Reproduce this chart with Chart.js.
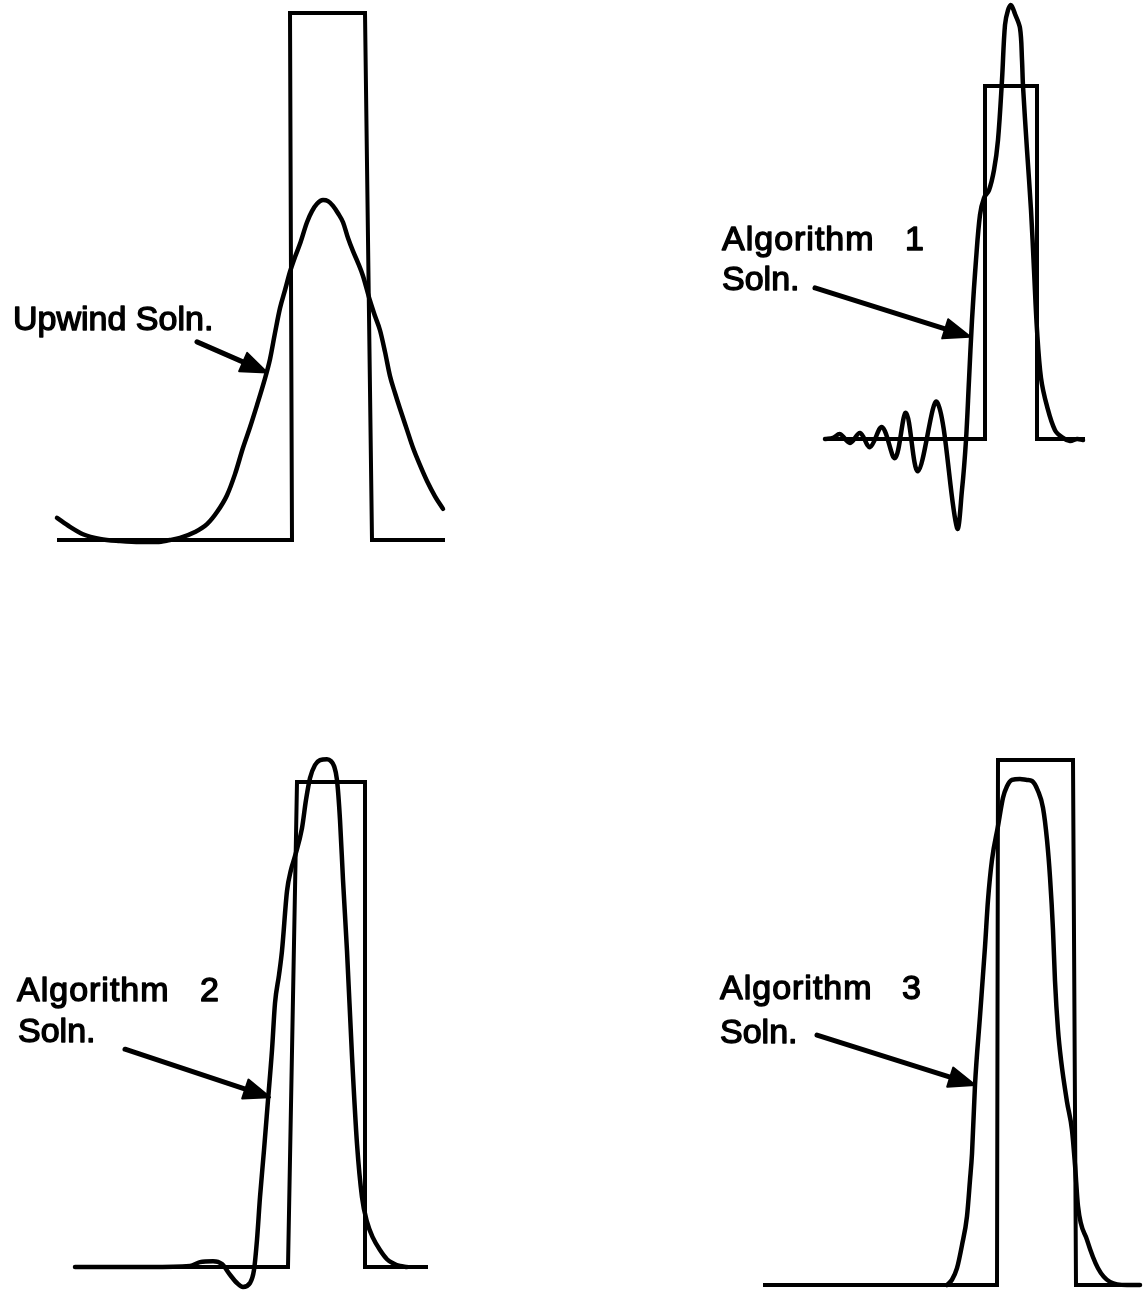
<!DOCTYPE html>
<html>
<head>
<meta charset="utf-8">
<script src="https://cdn.jsdelivr.net/npm/chart.js@4/dist/chart.umd.min.js"></script>
<style>
  html, body { margin: 0; padding: 0; background: #fff; }
  #page { position: relative; width: 1144px; height: 1290px; overflow: hidden; background: #fff; }
  #page canvas { position: absolute; }
</style>
</head>
<body>
<div id="page"></div>
<script>
// Exact solution: square pulse of unit height (same heights in every panel)
const pulseU = [0, 0, 1, 1, 0, 0];

// Panel 1 - upwind scheme
const pulseX1 = [5.7, 29.2, 29.0, 36.5, 37.2, 44.5];
const upwindX = [5.7, 7.0, 8.3, 10.0, 12.0, 14.0, 15.7, 17.0, 18.0, 19.5,
                 20.7, 21.7, 22.7, 23.5, 24.3, 25.0, 25.7, 26.4, 27.0, 27.5,
                 28.0, 28.5, 29.0, 29.5, 30.0, 30.7, 31.2, 31.7, 32.3, 32.8,
                 33.3, 33.8, 34.3, 34.8, 35.3, 35.8, 36.3, 37.0, 37.5, 38.0,
                 38.5, 39.0, 39.5, 40.0, 40.7, 41.3, 42.0, 42.7, 43.5, 44.3];
const upwindU = [0.042, 0.025, 0.011, 0.002, -0.002, -0.004, -0.004, 0.000, 0.004, 0.015,
                 0.030, 0.053, 0.085, 0.125, 0.175, 0.214, 0.256, 0.300, 0.343, 0.393,
                 0.440, 0.474, 0.509, 0.537, 0.562, 0.603, 0.624, 0.638, 0.645, 0.643,
                 0.634, 0.620, 0.603, 0.573, 0.548, 0.526, 0.501, 0.454, 0.425, 0.398,
                 0.357, 0.311, 0.279, 0.249, 0.209, 0.175, 0.142, 0.112, 0.083, 0.059];

// Panel 2 - Algorithm 1
const pulseX2 = [12.5, 28.5, 28.5, 33.7, 33.7, 38.5];
const alg1X = [12.5, 13.3, 14.0, 15.0, 16.0, 17.0, 18.2, 19.5, 20.6, 21.8,
               23.7, 25.7, 26.2, 26.6, 26.9, 27.2, 27.6, 28.0, 28.4, 28.9,
               29.4, 29.8, 30.2, 30.5, 30.8, 31.1, 31.5, 32.0, 32.2, 32.3,
               32.7, 33.1, 33.4, 33.7, 34.1, 34.7, 35.5, 36.3, 37.0, 37.7, 38.3];
const alg1U = [0, 0.003, 0.014, -0.011, 0.017, -0.023, 0.034, -0.054, 0.074, -0.091,
               0.105, -0.252, -0.144, -0.003, 0.167, 0.337, 0.507, 0.635, 0.683, 0.705,
               0.762, 0.847, 1.017, 1.173, 1.215, 1.229, 1.204, 1.164, 1.074, 1.000,
               0.819, 0.649, 0.479, 0.309, 0.173, 0.093, 0.025, 0.003, -0.006, 0, -0.003];

// Panel 3 - Algorithm 2
const pulseX3 = [7.5, 28.8, 29.7, 36.5, 36.5, 42.8];
const alg2X = [7.5, 15.0, 19.0, 20.0, 21.3, 22.2, 23.0, 23.7, 24.3, 25.0,
               25.4, 25.7, 26.0, 26.4, 26.8, 27.2, 27.5, 27.9, 28.2, 28.7,
               29.1, 29.5, 30.2, 30.6, 31.0, 31.5, 32.0, 32.7, 33.1, 33.4,
               33.7, 34.0, 34.3, 34.7, 35.2, 35.7, 36.2, 36.7, 37.3, 38.0,
               38.7, 39.3, 40.0, 40.7];
const alg2U = [0, 0, 0.002, 0.010, 0.012, 0.006, -0.016, -0.033, -0.041, -0.033,
               -0.006, 0.056, 0.144, 0.241, 0.344, 0.447, 0.544, 0.602, 0.652, 0.775,
               0.819, 0.847, 0.905, 0.963, 1.008, 1.035, 1.045, 1.047, 1.043, 1.033,
               1.004, 0.922, 0.798, 0.652, 0.435, 0.254, 0.144, 0.093, 0.060, 0.035,
               0.016, 0.008, 0.002, 0];

// Panel 4 - Algorithm 3
const pulseX4 = [6.3, 29.7, 29.8, 37.3, 37.6, 44.0];
const alg3X = [24.7, 25.2, 25.7, 26.2, 26.7, 27.0, 27.2, 27.5, 28.0, 28.5,
               28.8, 29.2, 29.8, 30.3, 30.7, 31.2, 32.0, 32.7, 33.2, 33.8,
               34.3, 34.7, 35.0, 35.3, 35.5, 35.8, 36.1, 36.7, 37.2, 37.5,
               37.8, 38.7, 39.8, 41.0, 42.7, 44.0];
const alg3U = [0, 0.010, 0.032, 0.076, 0.131, 0.200, 0.250, 0.381, 0.512, 0.644,
               0.733, 0.810, 0.874, 0.928, 0.950, 0.962, 0.964, 0.962, 0.960, 0.941,
               0.909, 0.848, 0.777, 0.676, 0.579, 0.486, 0.429, 0.349, 0.295, 0.229,
               0.150, 0.086, 0.032, 0.006, 0, 0];

// Label texts
const labelUpwind = ['Upwind Soln.'];
const labelAlg1 = ['Algorithm', '1', 'Soln.'];
const labelAlg2 = ['Algorithm', '2', 'Soln.'];
const labelAlg3 = ['Algorithm', '3', 'Soln.'];

const INK = '#000';
const FONT = '34px "Liberation Sans", Arial, Helvetica, sans-serif';

function pts(xs, us) { return xs.map((x, i) => ({ x: x, y: us[i] })); }

// Draws annotation text and leader arrows in data coordinates
const notesPlugin = {
  id: 'notes',
  afterDatasetsDraw(chart, args, opts) {
    const ctx = chart.ctx, sx = chart.scales.x, sy = chart.scales.y;
    ctx.save();
    ctx.fillStyle = INK; ctx.strokeStyle = INK;
    ctx.font = FONT;
    ctx.textBaseline = 'alphabetic';
    ctx.textAlign = 'left';
    ctx.lineJoin = 'round';
    (opts.texts || []).forEach(t => {
      ctx.letterSpacing = (t.spacing || 0) + 'px';
      const px = sx.getPixelForValue(t.x), py = sy.getPixelForValue(t.y);
      ctx.lineWidth = 1.4;
      ctx.fillText(t.text, px, py);
      ctx.strokeText(t.text, px, py);
    });
    ctx.letterSpacing = '0px';
    if (opts.arrow) {
      const a = opts.arrow;
      const x0 = sx.getPixelForValue(a.from[0]), y0 = sy.getPixelForValue(a.from[1]);
      const x1 = sx.getPixelForValue(a.to[0]), y1 = sy.getPixelForValue(a.to[1]);
      const ang = Math.atan2(y1 - y0, x1 - x0);
      const len = 26, half = 10;
      const bx = x1 - len * Math.cos(ang), by = y1 - len * Math.sin(ang);
      ctx.lineWidth = 5; ctx.lineCap = 'round';
      ctx.beginPath(); ctx.moveTo(x0, y0); ctx.lineTo(bx + 4 * Math.cos(ang), by + 4 * Math.sin(ang)); ctx.stroke();
      ctx.beginPath();
      ctx.moveTo(x1, y1);
      ctx.lineTo(bx - half * Math.sin(ang), by + half * Math.cos(ang));
      ctx.lineTo(bx + half * Math.sin(ang), by - half * Math.cos(ang));
      ctx.closePath();
      ctx.lineWidth = 2;
      ctx.fill(); ctx.stroke();
    }
    ctx.restore();
  }
};

// Panel frames: canvas box on the page, baseline row, pixels per unit height, pixels per x unit
const panels = [
  { left: 0,   top: 0,   width: 480, height: 580, base: 540,  unit: 527, pxPerX: 10,
    pulseX: pulseX1, solX: upwindX, solU: upwindU, smooth: 'monotone',
    texts: [{ text: labelUpwind[0], x: 1.3, y: 0.398 }],
    arrow: { from: [19.7, 0.376], to: [26.7, 0.318] } },
  { left: 700, top: 0,   width: 444, height: 560, base: 439,  unit: 353, pxPerX: 10,
    pulseX: pulseX2, solX: alg1X, solU: alg1U, smooth: 'default',
    texts: [{ text: labelAlg1[0], x: 2.2, y: 0.535, spacing: 1 },
            { text: labelAlg1[1], x: 20.5, y: 0.535 },
            { text: labelAlg1[2], x: 2.2, y: 0.422 }],
    arrow: { from: [11.5, 0.428], to: [27.0, 0.29] } },
  { left: 0,   top: 740, width: 480, height: 550, base: 1267, unit: 485, pxPerX: 10,
    pulseX: pulseX3, solX: alg2X, solU: alg2U, smooth: 'monotone',
    texts: [{ text: labelAlg2[0], x: 1.7, y: 0.548, spacing: 1 },
            { text: labelAlg2[1], x: 20.0, y: 0.548 },
            { text: labelAlg2[2], x: 1.8, y: 0.464 }],
    arrow: { from: [12.5, 0.449], to: [27.0, 0.35] } },
  { left: 700, top: 740, width: 444, height: 550, base: 1285, unit: 525, pxPerX: 10,
    pulseX: pulseX4, solX: alg3X, solU: alg3U, smooth: 'monotone',
    texts: [{ text: labelAlg3[0], x: 2.0, y: 0.545, spacing: 1 },
            { text: labelAlg3[1], x: 20.2, y: 0.545 },
            { text: labelAlg3[2], x: 2.0, y: 0.461 }],
    arrow: { from: [11.7, 0.476], to: [27.5, 0.381] } }
];

const page = document.getElementById('page');
panels.forEach(p => {
  const cv = document.createElement('canvas');
  cv.width = p.width; cv.height = p.height;
  cv.style.left = p.left + 'px'; cv.style.top = p.top + 'px';
  cv.style.width = p.width + 'px'; cv.style.height = p.height + 'px';
  page.appendChild(cv);

  const yMax = (p.base - p.top) / p.unit;
  const yMin = (p.base - (p.top + p.height)) / p.unit;

  new Chart(cv, {
    type: 'scatter',
    data: {
      datasets: [
        { data: pts(p.pulseX, pulseU), showLine: true, borderColor: INK, borderWidth: 4,
          pointRadius: 0, tension: 0, clip: false, borderJoinStyle: 'miter', borderCapStyle: 'butt' },
        { data: pts(p.solX, p.solU), showLine: true, borderColor: INK, borderWidth: 4.5,
          pointRadius: 0, tension: 0.35, cubicInterpolationMode: p.smooth, clip: false,
          borderJoinStyle: 'round', borderCapStyle: 'round' }
      ]
    },
    options: {
      responsive: false, animation: false, devicePixelRatio: 1, events: [],
      layout: { padding: 0 },
      scales: {
        x: { type: 'linear', display: false, min: 0, max: p.width / p.pxPerX },
        y: { type: 'linear', display: false, min: yMin, max: yMax }
      },
      plugins: {
        legend: { display: false }, tooltip: { enabled: false },
        notes: { texts: p.texts, arrow: p.arrow }
      }
    },
    plugins: [notesPlugin]
  });
});
</script>
</body>
</html>
